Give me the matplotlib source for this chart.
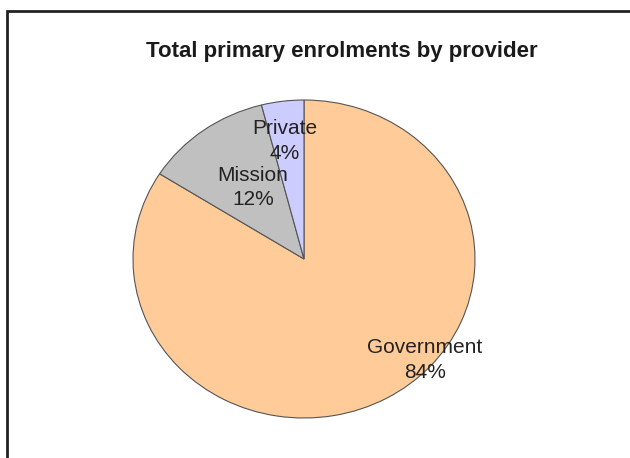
import numpy as np
import matplotlib.pyplot as plt
from matplotlib.patches import Rectangle

providers = ['Government', 'Mission', 'Private']
shares = [84, 12, 4]
colours = ['#FFCC99', '#C0C0C0', '#CCCCFF']

plt.rcParams['font.family'] = ['Liberation Sans', 'DejaVu Sans']

fig = plt.figure(figsize=(6.3, 4.58), dpi=100)
W, H = 630, 458

# outer chart frame (cut off at right and bottom like the source image)
fig.add_artist(Rectangle((7 / W, -0.05), 1.0, (H - 11) / H + 0.05,
                         transform=fig.transFigure, fill=False,
                         edgecolor='#222222', lw=2))

# the source pie is slightly stretched horizontally
rx, ry = 171, 159
cx, cy = 304, 259
ax = fig.add_axes([(cx - rx) / W, (H - cy - ry) / H, 2 * rx / W, 2 * ry / H])
wedges, _ = ax.pie(shares, colors=colours, startangle=90, counterclock=False,
                   wedgeprops=dict(edgecolor='#555555', linewidth=0.8))
ax.set_xlim(-1, 1)
ax.set_ylim(-1, 1)
ax.set_aspect('auto')
ax.axis('off')

# label placement tweaks (distance from centre, angle shift in degrees)
tweaks = {'Government': (0.95, 19.3), 'Mission': (0.54, -2.3), 'Private': (0.75, 1.3)}
for w, name, s in zip(wedges, providers, shares):
    mid = (w.theta1 + w.theta2) / 2
    d, da = tweaks[name]
    a = np.deg2rad(mid + da)
    ax.text(d * np.cos(a), d * np.sin(a), f'{name}\n{s}%', ha='center',
            va='center', fontsize=15, color='#222222', linespacing=1.35)

fig.text(342 / W, 1 - 51 / H, 'Total primary enrolments by provider',
         ha='center', va='center', fontsize=16, fontweight='bold',
         color='#1a1a1a')

fig.savefig('out.png', dpi=100)
